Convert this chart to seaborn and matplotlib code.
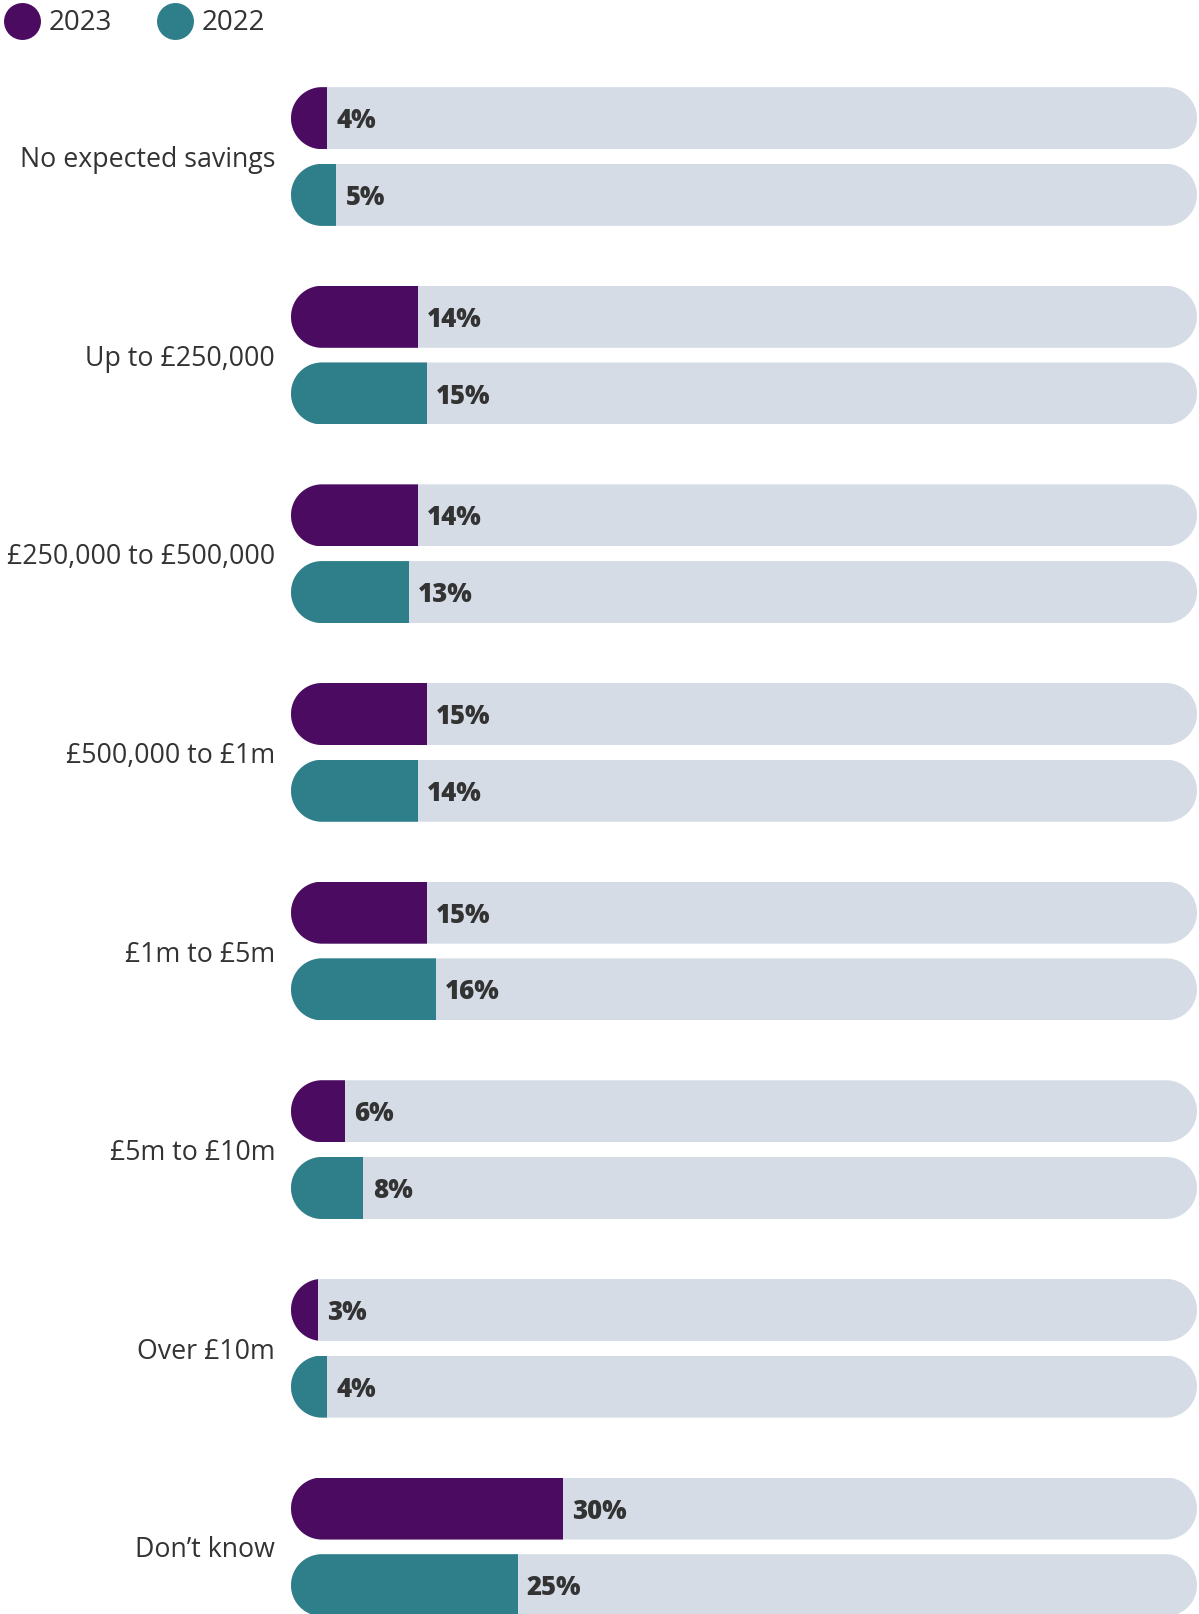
import numpy as np
import pandas as pd
import seaborn as sns
import matplotlib
matplotlib.use("Agg")
import matplotlib.pyplot as plt
from matplotlib.path import Path
from matplotlib.lines import Line2D

# ---- data -------------------------------------------------------------
categories = [
    "No expected savings",
    "Up to £250,000",
    "£250,000 to £500,000",
    "£500,000 to £1m",
    "£1m to £5m",
    "£5m to £10m",
    "Over £10m",
    "Don’t know",
]
years = ["2023", "2022"]
values_2023 = [4, 14, 14, 15, 15, 6, 3, 30]
values_2022 = [5, 15, 13, 14, 16, 8, 4, 25]

colors = {"2023": "#4B0B61", "2022": "#2E7F8A"}
track_color = "#D5DCE6"
text_color = "#333333"

df = pd.DataFrame({
    "category": categories * 2,
    "year": ["2023"] * len(categories) + ["2022"] * len(categories),
    "value": values_2023 + values_2022,
})
df["track"] = 100

# ---- figure -----------------------------------------------------------
sns.set_style("white")
plt.rcParams["font.family"] = ["Open Sans", "DejaVu Sans"]

W, H, DPI = 1199, 1614, 100
fig = plt.figure(figsize=(W / DPI, H / DPI), dpi=DPI)
ax_left, ax_right = 291, 1197
ax = fig.add_axes([ax_left / W, 0, (ax_right - ax_left) / W, 1])

bar_kw = dict(orient="h", order=categories, hue_order=years,
              width=0.7724, gap=0.1916, dodge=True, legend=False, ax=ax,
              saturation=1, linewidth=0)

# background tracks (100%)
sns.barplot(data=df, x="track", y="category", hue="year",
            palette={y: track_color for y in years}, **bar_kw)
n_track = len(ax.patches)
# values
sns.barplot(data=df, x="value", y="category", hue="year",
            palette=colors, **bar_kw)

ax.set_xlim(0, 100)
ax.set_ylim(7.338, -0.788)
sns.despine(ax=ax, left=True, bottom=True)
ax.set_xticks([])
ax.set_xlabel("")
ax.set_ylabel("")
ax.tick_params(axis="y", length=0, pad=11.5, labelsize=19.3, labelcolor=text_color)
for lbl in ax.get_yticklabels():
    lbl.set_fontfamily(["Open Sans", "DejaVu Sans"])

# pill-shaped clip for each track row
px_per_x = ax.transData.transform((1, 0))[0] - ax.transData.transform((0, 0))[0]
px_per_y = abs(ax.transData.transform((0, 1))[1] - ax.transData.transform((0, 0))[1])


def capsule(y0, y1, x0=0.0, x1=100.0):
    ry = (y1 - y0) / 2.0
    rx = ry * px_per_y / px_per_x
    yc = (y0 + y1) / 2.0
    t_r = np.linspace(-np.pi / 2, np.pi / 2, 60)
    t_l = np.linspace(np.pi / 2, 3 * np.pi / 2, 60)
    right = np.column_stack([x1 - rx + rx * np.cos(t_r), yc + ry * np.sin(t_r)])
    left = np.column_stack([x0 + rx + rx * np.cos(t_l), yc + ry * np.sin(t_l)])
    verts = np.vstack([right, left, right[:1]])
    codes = [Path.MOVETO] + [Path.LINETO] * (len(verts) - 2) + [Path.CLOSEPOLY]
    return Path(verts, codes)


tracks = ax.patches[:n_track]
clips = []
for p in tracks:
    y0 = p.get_y()
    y1 = y0 + p.get_height()
    clips.append(((y0 + y1) / 2, capsule(y0, y1)))

for p in ax.patches:
    yc = p.get_y() + p.get_height() / 2
    _, path = min(clips, key=lambda c: abs(c[0] - yc))
    p.set_clip_path(path, ax.transData)

# value labels
for p in ax.patches[n_track:]:
    v = p.get_width()
    yc = p.get_y() + p.get_height() / 2
    ax.annotate(f"{v:.0f}%", xy=(v, yc), xytext=(6.6, -2.2),
                textcoords="offset points", ha="left", va="center",
                fontsize=18.5, fontweight="heavy", color=text_color,
                family=["Open Sans", "DejaVu Sans"])

# legend
for cx, tx, yr in [(22, 49, "2023"), (175, 202, "2022")]:
    fig.add_artist(Line2D([cx / W], [1 - 20.6 / H], marker="o", markersize=26.6,
                          markerfacecolor=colors[yr], markeredgewidth=0,
                          linestyle="none", transform=fig.transFigure))
    fig.text(tx / W, 1 - 23.5 / H, yr, ha="left", va="center", fontsize=20,
             color=text_color, family=["Open Sans", "DejaVu Sans"])

fig.savefig("out.png", dpi=DPI)
